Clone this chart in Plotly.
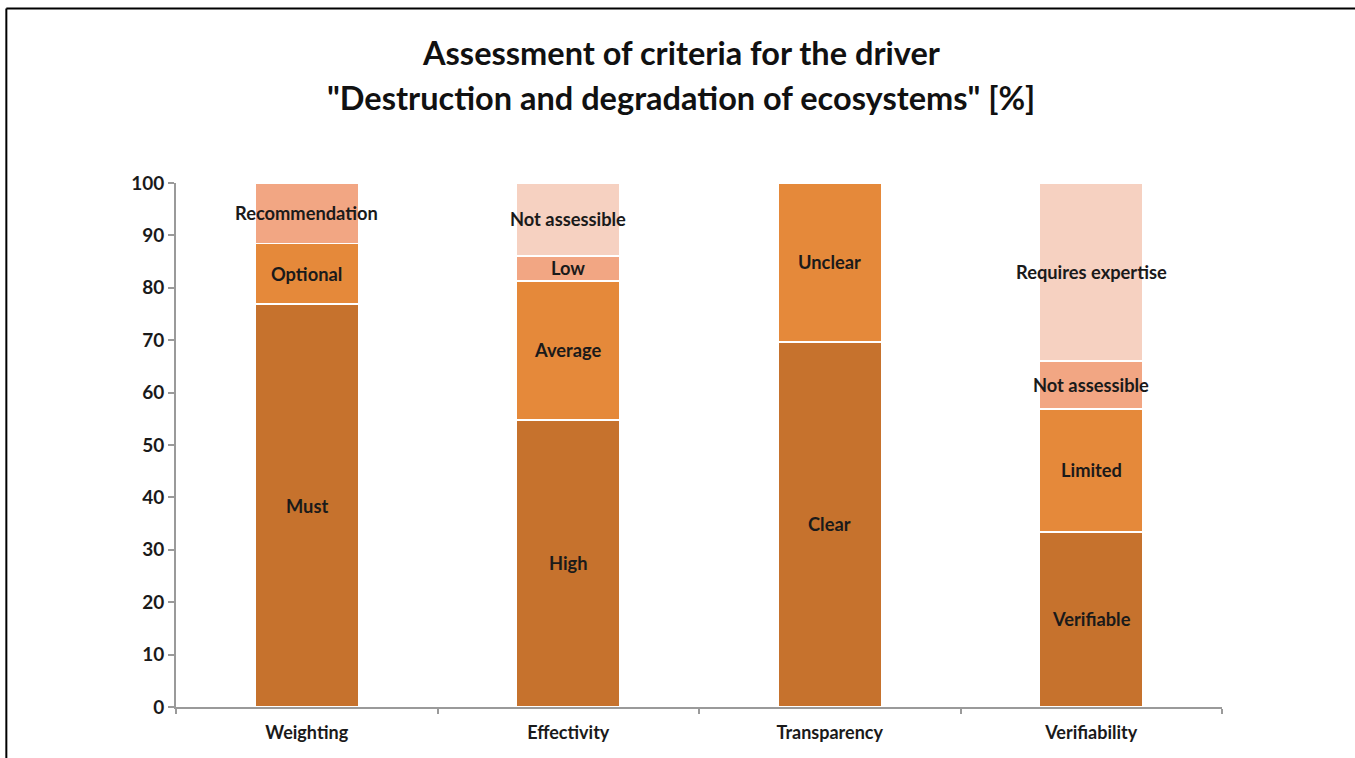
import plotly.graph_objects as go

criteria = ["Weighting", "Effectivity", "Transparency", "Verifiability"]

# stacked segments, bottom to top (percent)
level1_vals = [76.9, 54.8, 69.7, 33.4]
level1_lbls = ["Must", "High", "Clear", "Verifiable"]
level2_vals = [11.6, 26.5, 30.3, 23.5]
level2_lbls = ["Optional", "Average", "Unclear", "Limited"]
level3_vals = [11.5, 4.8, 0, 9.1]
level3_lbls = ["Recommendation", "Low", "", "Not assessible"]
level4_vals = [0, 13.9, 0, 34.0]
level4_lbls = ["", "Not assessible", "", "Requires expertise"]

title_lines = ["Assessment of criteria for the driver",
               '"Destruction and degradation of ecosystems" [%]']

levels = [
    (level1_vals, level1_lbls, "#C6722D"),
    (level2_vals, level2_lbls, "#E5893A"),
    (level3_vals, level3_lbls, "#F2A683"),
    (level4_vals, level4_lbls, "#F6D1C1"),
]

FONT = "Lato"

fig = go.Figure()
annots = []
base = [0.0] * len(criteria)
for vals, lbls, col in levels:
    fig.add_trace(go.Bar(
        x=criteria, y=vals, marker=dict(color=col, line=dict(color="white", width=1.5)),
        width=0.395, hoverinfo="skip"))
    for i, (v, t) in enumerate(zip(vals, lbls)):
        if v > 0 and t:
            annots.append(dict(x=criteria[i], y=base[i] + v / 2, text=t, showarrow=False,
                               font=dict(family=FONT, size=18.3, color="#1a1a1a", weight="bold")))
        base[i] += v

# title, two lines
for yy, line in zip([1.25, 1.164], title_lines):
    annots.append(dict(xref="paper", yref="paper", x=0.4828, y=yy, text=line, showarrow=False,
                       xanchor="center", yanchor="middle",
                       font=dict(family=FONT, size=32.5, color="#111", weight="bold")))

# decorative frame (top and left edges)
shapes = [
    dict(type="line", xref="paper", yref="paper", x0=-0.1622, x1=1.13, y0=1.333, y1=1.333,
         line=dict(color="black", width=2)),
    dict(type="line", xref="paper", yref="paper", x0=-0.1622, x1=-0.1622, y0=1.333, y1=-0.1,
         line=dict(color="black", width=2)),
]

fig.update_layout(
    barmode="stack",
    width=1355, height=758,
    margin=dict(l=176, r=133, t=183, b=51),
    paper_bgcolor="white", plot_bgcolor="white",
    showlegend=False,
    annotations=annots,
    shapes=shapes,
    xaxis=dict(showline=True, linecolor="#9a9a9a", linewidth=2, ticks="outside", tickson="boundaries",
               ticklen=5, tickcolor="#9a9a9a", tickwidth=2, ticklabelstandoff=8,
               tickfont=dict(family=FONT, size=18, color="#1a1a1a", weight="bold")),
    yaxis=dict(range=[0, 100], dtick=10, showline=True, linecolor="#9a9a9a", linewidth=2,
               ticks="outside", ticklen=6, tickcolor="#9a9a9a", tickwidth=2, showgrid=False,
               zeroline=False,
               tickfont=dict(family=FONT, size=19, color="#1a1a1a", weight="bold")),
)

fig.write_html("out.html", config={"displayModeBar": False},
               post_script="document.body.style.margin='0px';")
